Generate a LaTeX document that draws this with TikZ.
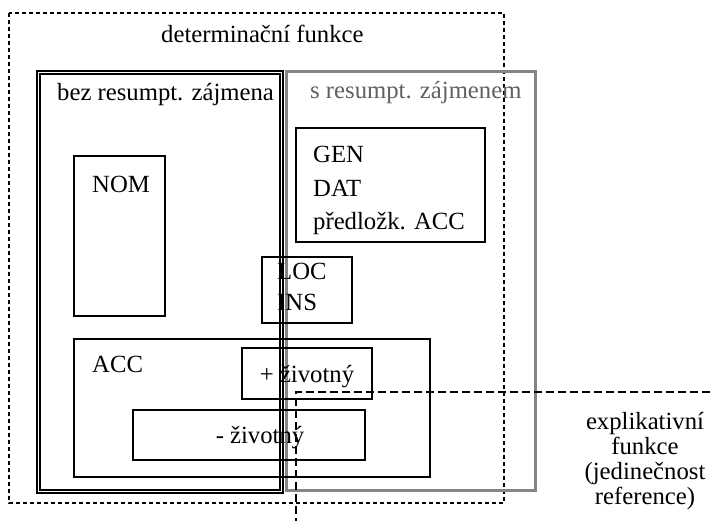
\documentclass[tikz,border=0pt]{standalone}
\usepackage{fontspec}
\setmainfont{Liberation Serif}
\begin{document}
\begin{tikzpicture}[x=1pt,y=-1pt,
  box/.style={draw=black, line width=1.2pt},
  graybox/.style={draw=black!48, line width=3pt},
  outerdash/.style={draw=black, line width=1.1pt, dash pattern=on 4pt off 3pt},
  expldash/.style={draw=black, line width=1.1pt, dash pattern=on 8pt off 4pt},
  lbl/.style={inner sep=0pt, anchor=base west, font=\fontsize{24.7}{25}\selectfont},
  glbl/.style={lbl, text=black!62}]
\useasboundingbox (0,0) rectangle (710,521);
\fill[white] (0,0) rectangle (710,521);
% outer dashed box
\draw[outerdash] (9,13) rectangle (504,503);
\node[lbl] (det) at (161,43) {determinační funkce};
% double box
\draw[box] (37,71) rectangle (283,493);
\draw[box] (40,74) rectangle (280,490);
\node[lbl] (bez) at (57,101) {bez resumpt. zájmena};
% gray box
\draw[graybox] (286,72) rectangle (535.5,490);
\node[glbl] (sres) at (310,99) {s resumpt. zájmenem};
% NOM
\draw[box] (74,156) rectangle (165,316);
\node[lbl] (nom) at (92,193) {NOM};
% GEN DAT
\draw[box] (296,128) rectangle (485,242);
\node[lbl] (gen) at (313,163) {GEN};
\node[lbl] (dat) at (313,197) {DAT};
\node[lbl] (pred) at (313,230) {předložk. ACC};
% LOC INS
\draw[box] (262,257) rectangle (352,323);
\node[lbl] (loc) at (277,280) {LOC};
\node[lbl] (ins) at (277,311) {INS};
% ACC
\draw[box] (74,339) rectangle (430,477);
\node[lbl] (acc) at (92,373) {ACC};
\draw[box] (242,348) rectangle (372,399);
\node[lbl, anchor=base] (plus) at (307,383) {+ životný};
\draw[box] (133,410) rectangle (365,460);
\node[lbl, anchor=base] (minus) at (260,443) {- životný};
% explicative corner
\coordinate (ec) at (296,392);
\coordinate (eright) at (710,392);
\coordinate (ebottom) at (296,521);
\draw[expldash] (eright) -- (ec) -- (ebottom);
\node[lbl, anchor=base] (ex1) at (645,429) {explikativní};
\node[lbl, anchor=base] (ex2) at (645,454) {funkce};
\node[lbl, anchor=base] (ex3) at (645,479) {(jedinečnost};
\node[lbl, anchor=base] (ex4) at (645,504) {reference)};
\end{tikzpicture}
\end{document}
